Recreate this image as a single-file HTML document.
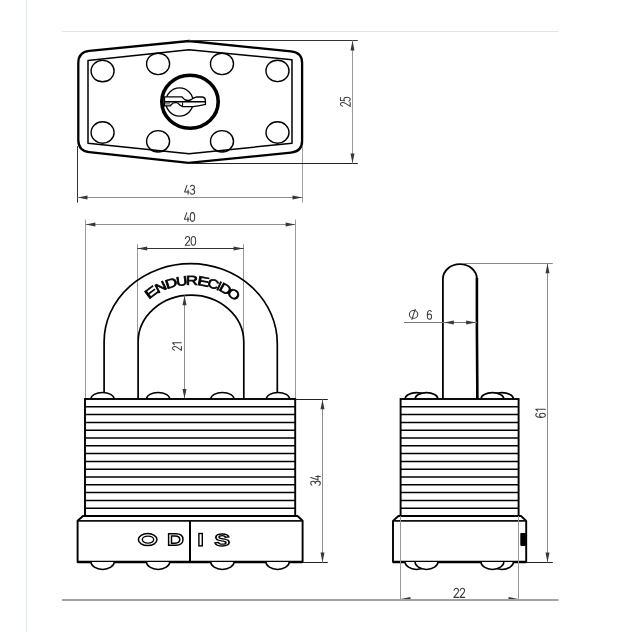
<!DOCTYPE html>
<html><head><meta charset="utf-8"><style>
html,body{margin:0;padding:0;background:#fff;width:632px;height:632px;overflow:hidden}
svg{display:block;will-change:transform}
text{font-family:"Liberation Sans",sans-serif}
</style></head><body>
<svg width="632" height="632" viewBox="0 0 632 632">
<rect width="632" height="632" fill="#fff"/>
<line x1="26.5" y1="0" x2="26.5" y2="632" stroke="#dfe7eb" stroke-width="1"/>
<line x1="62" y1="31.5" x2="558.5" y2="31.5" stroke="#e4e4e4" stroke-width="1.2"/>
<path d="M78.3,63 Q78.3,51.9 89.3,50.8 L189,41 L291,51.4 Q302.1,52.5 302.1,63 L302.1,141 Q302.1,151.5 291,152.6 L188.5,162.8 L89.3,152.2 Q78.3,151 78.3,140 Z" fill="none" stroke="#000" stroke-width="2.3"/>
<path d="M88,60.4 L189,49.8 L292,59.7 L292,143.2 L189,153.8 L88,143.2 Z" fill="none" stroke="#000" stroke-width="1.5" stroke-linejoin="round"/>
<ellipse cx="102.6" cy="71.1" rx="11.5" ry="10.7" fill="none" stroke="#000" stroke-width="1.4"/>
<ellipse cx="158.1" cy="63.9" rx="11.5" ry="10.7" fill="none" stroke="#000" stroke-width="1.4"/>
<ellipse cx="222" cy="63.9" rx="11.5" ry="10.7" fill="none" stroke="#000" stroke-width="1.4"/>
<ellipse cx="277.5" cy="70.9" rx="11.5" ry="10.7" fill="none" stroke="#000" stroke-width="1.4"/>
<ellipse cx="102.6" cy="132.5" rx="11.5" ry="10.7" fill="none" stroke="#000" stroke-width="1.4"/>
<ellipse cx="158.1" cy="141.3" rx="11.5" ry="10.7" fill="none" stroke="#000" stroke-width="1.4"/>
<ellipse cx="222" cy="141.3" rx="11.5" ry="10.7" fill="none" stroke="#000" stroke-width="1.4"/>
<ellipse cx="277.5" cy="132.5" rx="11.5" ry="10.7" fill="none" stroke="#000" stroke-width="1.4"/>
<ellipse cx="190" cy="101.7" rx="28.2" ry="26.5" fill="none" stroke="#000" stroke-width="3.6"/>
<ellipse cx="179.5" cy="102" rx="13.65" ry="14.1" fill="none" stroke="#000" stroke-width="1.3"/>
<path d="M164.5,96.8 L181.8,96.8 L184.4,99.4 Q187.8,101.6 191.6,99.4 Q193.4,97.4 196.8,96.8 L202.5,97 Q205.3,97.6 205.4,100.2 L205.5,104.4 Q200,105.6 193.2,106.6 L182.6,106.6 L179.8,105 Q178,102.6 176.3,102.6 Q173,102.4 171.6,104.3 L170.3,105.8 L164.5,105.8 Z" fill="#fff" stroke="#000" stroke-width="1.3" stroke-linejoin="round"/>
<rect x="165" y="102.4" width="5" height="2.2" fill="#888"/>
<line x1="164.5" y1="101.8" x2="205.2" y2="101.8" stroke="#000" stroke-width="1.6"/>
<line x1="182.6" y1="102.4" x2="182.6" y2="106.6" stroke="#000" stroke-width="1"/>
<line x1="164.3" y1="96.8" x2="164.3" y2="106.5" stroke="#000" stroke-width="1.3"/>
<line x1="77.5" y1="146" x2="77.5" y2="202.7" stroke="#333" stroke-width="1"/>
<line x1="302.5" y1="146" x2="302.5" y2="202.7" stroke="#a0a0a0" stroke-width="1"/>
<line x1="77.5" y1="197.5" x2="302.5" y2="197.5" stroke="#8e8e8e" stroke-width="1"/>
<polygon points="77.80,197.50 87.50,195.50 87.50,199.50" fill="#383838"/>
<polygon points="302.20,197.50 292.50,199.50 292.50,195.50" fill="#383838"/>
<g transform="translate(184.62 185.33) scale(0.8445 0.8850) translate(0 0)" fill="none" stroke="#3c3c3c" stroke-width="1.05" stroke-linecap="round" stroke-linejoin="round"><path vector-effect="non-scaling-stroke" transform="translate(0.0 0)" d="M2.8,0 L0,7.5 L5.3,7.5 M4.1,5.2 L4.1,10"/><path vector-effect="non-scaling-stroke" transform="translate(6.7 0)" d="M0.3,1.2 C0.8,0.4 1.6,0 2.6,0 C4,0 4.9,0.9 4.9,2.4 C4.9,3.8 3.9,4.7 2.3,4.7 C4.1,4.7 5.2,5.7 5.2,7.3 C5.2,9 4.1,10 2.6,10 C1.5,10 0.6,9.5 0.1,8.6"/></g>
<line x1="189" y1="40.5" x2="357.8" y2="40.5" stroke="#333" stroke-width="1"/>
<line x1="188.5" y1="163.5" x2="357.8" y2="163.5" stroke="#222" stroke-width="1"/>
<line x1="352.5" y1="40.5" x2="352.5" y2="163.5" stroke="#999" stroke-width="1"/>
<polygon points="352.50,40.80 354.50,50.50 350.50,50.50" fill="#383838"/>
<polygon points="352.50,163.20 350.50,153.50 354.50,153.50" fill="#383838"/>
<g transform="translate(340.42 106.38) rotate(-90) scale(0.7689 0.9750) translate(0 0)" fill="none" stroke="#3c3c3c" stroke-width="1.05" stroke-linecap="round" stroke-linejoin="round"><path vector-effect="non-scaling-stroke" transform="translate(0.0 0)" d="M0.2,2.3 C0.5,0.8 1.4,0 2.7,0 C4.2,0 5.1,0.9 5.1,2.4 C5.1,3.6 4.5,4.5 3.6,5.6 L0,10 L5.2,10"/><path vector-effect="non-scaling-stroke" transform="translate(6.7 0)" d="M4.9,0 L0.9,0 L0.5,4.4 C1.1,3.9 1.8,3.6 2.7,3.6 C4.3,3.6 5.2,4.8 5.2,6.7 C5.2,8.8 4.2,10 2.6,10 C1.5,10 0.6,9.5 0.1,8.6"/></g>
<line x1="85.5" y1="219.6" x2="85.5" y2="399" stroke="#999" stroke-width="1"/>
<line x1="295.5" y1="219.6" x2="295.5" y2="399" stroke="#999" stroke-width="1"/>
<line x1="85.5" y1="224.5" x2="295.4" y2="224.5" stroke="#8e8e8e" stroke-width="1"/>
<polygon points="85.70,224.50 95.40,222.50 95.40,226.50" fill="#383838"/>
<polygon points="295.30,224.50 285.60,226.50 285.60,222.50" fill="#383838"/>
<g transform="translate(184.43 212.62) scale(0.8613 0.8750) translate(0 0)" fill="none" stroke="#3c3c3c" stroke-width="1.05" stroke-linecap="round" stroke-linejoin="round"><path vector-effect="non-scaling-stroke" transform="translate(0.0 0)" d="M2.8,0 L0,7.5 L5.3,7.5 M4.1,5.2 L4.1,10"/><path vector-effect="non-scaling-stroke" transform="translate(6.7 0)" d="M2.6,0 C4.4,0 5.2,1.7 5.2,5 C5.2,8.3 4.4,10 2.6,10 C0.8,10 0,8.3 0,5 C0,1.7 0.8,0 2.6,0 Z"/></g>
<line x1="137.5" y1="244.2" x2="137.5" y2="340" stroke="#999" stroke-width="1"/>
<line x1="243.5" y1="244.2" x2="243.5" y2="340" stroke="#999" stroke-width="1"/>
<line x1="137.5" y1="248.5" x2="243.5" y2="248.5" stroke="#333" stroke-width="1"/>
<polygon points="137.50,248.50 147.20,246.50 147.20,250.50" fill="#383838"/>
<polygon points="243.30,248.50 233.60,250.50 233.60,246.50" fill="#383838"/>
<g transform="translate(185.22 236.53) scale(0.8782 0.8750) translate(0 0)" fill="none" stroke="#3c3c3c" stroke-width="1.05" stroke-linecap="round" stroke-linejoin="round"><path vector-effect="non-scaling-stroke" transform="translate(0.0 0)" d="M0.2,2.3 C0.5,0.8 1.4,0 2.7,0 C4.2,0 5.1,0.9 5.1,2.4 C5.1,3.6 4.5,4.5 3.6,5.6 L0,10 L5.2,10"/><path vector-effect="non-scaling-stroke" transform="translate(6.7 0)" d="M2.6,0 C4.4,0 5.2,1.7 5.2,5 C5.2,8.3 4.4,10 2.6,10 C0.8,10 0,8.3 0,5 C0,1.7 0.8,0 2.6,0 Z"/></g>
<path d="M104.1,399 L104.1,341.7 A86.6,78 0 0 1 190.7,263.7 A86.6,80 0 0 1 277.3,343.7 L277.3,399" fill="none" stroke="#000" stroke-width="1.7"/>
<path d="M138.1,399 L138.1,342.2 A52.85,47 0 0 1 243.8,342.2 L243.8,399" fill="none" stroke="#000" stroke-width="1.7"/>
<text transform="translate(150.70 291.86) rotate(-37) scale(1.45 1)" x="0" y="4.9" font-size="12.9" font-weight="normal" fill="#000" stroke="#000" stroke-width="0.7" text-anchor="middle">E</text>
<text transform="translate(160.50 286.54) rotate(-27) scale(1.2 1)" x="0" y="4.9" font-size="12.9" font-weight="normal" fill="#000" stroke="#000" stroke-width="0.7" text-anchor="middle">N</text>
<text transform="translate(170.99 282.74) rotate(-17.5) scale(1.3 1)" x="0" y="4.9" font-size="12.9" font-weight="normal" fill="#000" stroke="#000" stroke-width="0.7" text-anchor="middle">D</text>
<text transform="translate(181.68 280.59) rotate(-8) scale(1.2 1)" x="0" y="4.9" font-size="12.9" font-weight="normal" fill="#000" stroke="#000" stroke-width="0.7" text-anchor="middle">U</text>
<text transform="translate(191.78 280.00) rotate(0.5) scale(1.3 1)" x="0" y="4.9" font-size="12.9" font-weight="normal" fill="#000" stroke="#000" stroke-width="0.7" text-anchor="middle">R</text>
<text transform="translate(203.41 281.04) rotate(10) scale(1.4 1)" x="0" y="4.9" font-size="12.9" font-weight="normal" fill="#000" stroke="#000" stroke-width="0.7" text-anchor="middle">E</text>
<text transform="translate(213.50 283.48) rotate(19) scale(1.2 1)" x="0" y="4.9" font-size="12.9" font-weight="normal" fill="#000" stroke="#000" stroke-width="0.7" text-anchor="middle">C</text>
<text transform="translate(219.35 285.61) rotate(24) scale(1.0 1)" x="0" y="4.9" font-size="12.9" font-weight="normal" fill="#000" stroke="#000" stroke-width="0.7" text-anchor="middle">I</text>
<text transform="translate(225.70 288.59) rotate(30) scale(1.3 1)" x="0" y="4.9" font-size="12.9" font-weight="normal" fill="#000" stroke="#000" stroke-width="0.7" text-anchor="middle">D</text>
<text transform="translate(234.10 293.75) rotate(38) scale(1.2 1)" x="0" y="4.9" font-size="12.9" font-weight="normal" fill="#000" stroke="#000" stroke-width="0.7" text-anchor="middle">O</text>
<line x1="184.5" y1="295.5" x2="184.5" y2="399" stroke="#8e8e8e" stroke-width="1"/>
<polygon points="184.50,295.60 186.50,305.30 182.50,305.30" fill="#383838"/>
<polygon points="184.50,398.60 182.50,388.90 186.50,388.90" fill="#383838"/>
<g transform="translate(172.53 350.38) rotate(-90) scale(0.7475 0.8850) translate(0 0)" fill="none" stroke="#3c3c3c" stroke-width="1.05" stroke-linecap="round" stroke-linejoin="round"><path vector-effect="non-scaling-stroke" transform="translate(0.0 0)" d="M0.2,2.3 C0.5,0.8 1.4,0 2.7,0 C4.2,0 5.1,0.9 5.1,2.4 C5.1,3.6 4.5,4.5 3.6,5.6 L0,10 L5.2,10"/><path vector-effect="non-scaling-stroke" transform="translate(6.7 0)" d="M1.0,2.0 C2.0,1.4 2.8,0.7 3.4,0 L3.4,10"/></g>
<path d="M90.9,399 A11.6,6.5 0 0 1 114.1,399" fill="#fff" stroke="#000" stroke-width="1.6"/>
<path d="M146.5,399 A11.6,6.5 0 0 1 169.7,399" fill="#fff" stroke="#000" stroke-width="1.6"/>
<path d="M210.8,399 A11.6,6.5 0 0 1 234.0,399" fill="#fff" stroke="#000" stroke-width="1.6"/>
<path d="M266.4,399 A11.6,6.5 0 0 1 289.6,399" fill="#fff" stroke="#000" stroke-width="1.6"/>
<rect x="85" y="399" width="210.2" height="117" fill="none" stroke="#000" stroke-width="1.9"/>
<line x1="85" y1="406.8" x2="295.2" y2="406.8" stroke="#000" stroke-width="1.5"/>
<line x1="85" y1="414.6" x2="295.2" y2="414.6" stroke="#000" stroke-width="1.5"/>
<line x1="85" y1="422.4" x2="295.2" y2="422.4" stroke="#000" stroke-width="1.5"/>
<line x1="85" y1="430.2" x2="295.2" y2="430.2" stroke="#000" stroke-width="1.5"/>
<line x1="85" y1="438.0" x2="295.2" y2="438.0" stroke="#000" stroke-width="1.5"/>
<line x1="85" y1="445.8" x2="295.2" y2="445.8" stroke="#000" stroke-width="1.5"/>
<line x1="85" y1="453.6" x2="295.2" y2="453.6" stroke="#000" stroke-width="1.5"/>
<line x1="85" y1="461.4" x2="295.2" y2="461.4" stroke="#000" stroke-width="1.5"/>
<line x1="85" y1="469.2" x2="295.2" y2="469.2" stroke="#000" stroke-width="1.5"/>
<line x1="85" y1="477.0" x2="295.2" y2="477.0" stroke="#000" stroke-width="1.5"/>
<line x1="85" y1="484.8" x2="295.2" y2="484.8" stroke="#000" stroke-width="1.5"/>
<line x1="85" y1="492.6" x2="295.2" y2="492.6" stroke="#000" stroke-width="1.5"/>
<line x1="85" y1="500.4" x2="295.2" y2="500.4" stroke="#000" stroke-width="1.5"/>
<line x1="85" y1="508.2" x2="295.2" y2="508.2" stroke="#000" stroke-width="1.5"/>
<path d="M83,516 L297.5,516 L302.6,520.8 L302.6,562 L77.6,562 L77.6,520.8 Z" fill="#fff" stroke="#000" stroke-width="1.9" stroke-linejoin="round"/>
<line x1="78" y1="520.9" x2="302.2" y2="520.9" stroke="#111" stroke-width="1.6"/>
<path d="M85,516 L295.4,516" stroke="#000" stroke-width="2"/>
<line x1="190" y1="521" x2="190" y2="562" stroke="#000" stroke-width="2"/>
<line x1="77.6" y1="562" x2="302.5" y2="562" stroke="#000" stroke-width="2.4"/>
<path d="M91.0,562 A11.6,7.4 0 0 0 114.19999999999999,562" fill="#fff" stroke="#000" stroke-width="1.5"/>
<path d="M146.5,562 A11.6,7.4 0 0 0 169.7,562" fill="#fff" stroke="#000" stroke-width="1.5"/>
<path d="M210.8,562 A11.6,7.4 0 0 0 234.0,562" fill="#fff" stroke="#000" stroke-width="1.5"/>
<path d="M266.0,562 A11.6,7.4 0 0 0 289.20000000000005,562" fill="#fff" stroke="#000" stroke-width="1.5"/>
<ellipse cx="147.7" cy="539.6" rx="9.3" ry="6.0" fill="none" stroke="#000" stroke-width="1.5"/>
<ellipse cx="148" cy="539.6" rx="5.7" ry="3.5" fill="none" stroke="#000" stroke-width="1.4"/>
<path d="M168.6,533.8 L175.8,533.8 Q183,533.8 183,539.5 Q183,545.2 175.8,545.2 L168.6,545.2 Z M171.5,535.9 L175,535.9 Q179.8,535.9 179.8,539.6 Q179.8,543.2 175,543.2 L171.5,543.2 Z" fill="none" stroke="#000" stroke-width="1.45"/>
<rect x="198.9" y="533.5" width="3.4" height="12.4" fill="none" stroke="#000" stroke-width="1.4"/>
<text x="222.3" y="545.8" font-size="16.5" font-weight="bold" text-anchor="middle" fill="#fff" stroke="#000" stroke-width="1.3" textLength="15.5" lengthAdjust="spacingAndGlyphs">S</text>
<line x1="295.4" y1="399.5" x2="327.8" y2="399.5" stroke="#222" stroke-width="1"/>
<line x1="302.5" y1="562.5" x2="327.8" y2="562.5" stroke="#222" stroke-width="1"/>
<line x1="322.5" y1="399.5" x2="322.5" y2="562.5" stroke="#8e8e8e" stroke-width="1"/>
<polygon points="322.50,399.60 324.50,409.30 320.50,409.30" fill="#383838"/>
<polygon points="322.50,562.30 320.50,552.60 324.50,552.60" fill="#383838"/>
<g transform="translate(310.72 485.28) rotate(-90) scale(0.8193 0.9650) translate(-0.1 0)" fill="none" stroke="#3c3c3c" stroke-width="1.05" stroke-linecap="round" stroke-linejoin="round"><path vector-effect="non-scaling-stroke" transform="translate(0.0 0)" d="M0.3,1.2 C0.8,0.4 1.6,0 2.6,0 C4,0 4.9,0.9 4.9,2.4 C4.9,3.8 3.9,4.7 2.3,4.7 C4.1,4.7 5.2,5.7 5.2,7.3 C5.2,9 4.1,10 2.6,10 C1.5,10 0.6,9.5 0.1,8.6"/><path vector-effect="non-scaling-stroke" transform="translate(6.7 0)" d="M2.8,0 L0,7.5 L5.3,7.5 M4.1,5.2 L4.1,10"/></g>
<path d="M442.9,399 L442.9,279 A17,14.8 0 0 1 476.9,279 L476.9,399" fill="none" stroke="#000" stroke-width="1.8"/>
<path d="M476.9,278 L476.9,330 L477.4,399" fill="none" stroke="#000" stroke-width="2.6"/>
<line x1="404" y1="322.5" x2="477" y2="322.5" stroke="#777" stroke-width="1"/>
<polygon points="444.20,322.50 453.90,320.50 453.90,324.50" fill="#383838"/>
<polygon points="475.80,322.50 466.10,324.50 466.10,320.50" fill="#383838"/>
<ellipse cx="413.6" cy="314.4" rx="4.2" ry="3.9" fill="none" stroke="#3c3c3c" stroke-width="1.05"/>
<line x1="411.8" y1="319.8" x2="415.3" y2="308.8" stroke="#3c3c3c" stroke-width="1.05"/>
<g transform="translate(427.32 310.52) scale(0.8173 0.8750) translate(0 0)" fill="none" stroke="#3c3c3c" stroke-width="1.05" stroke-linecap="round" stroke-linejoin="round"><path vector-effect="non-scaling-stroke" transform="translate(0.0 0)" d="M4.8,1.1 C4.4,0.4 3.7,0 2.8,0 C1,0 0,1.9 0,5.4 C0,8.6 1,10 2.6,10 C4.2,10 5.2,8.8 5.2,7 C5.2,5.1 4.2,4 2.7,4 C1.4,4 0.4,4.9 0,6.2"/></g>
<line x1="463" y1="263.5" x2="552.8" y2="263.5" stroke="#888" stroke-width="1"/>
<line x1="526.7" y1="562.5" x2="552.8" y2="562.5" stroke="#222" stroke-width="1"/>
<line x1="547.5" y1="263.5" x2="547.5" y2="562.5" stroke="#8e8e8e" stroke-width="1"/>
<polygon points="547.50,263.60 549.50,273.30 545.50,273.30" fill="#383838"/>
<polygon points="547.50,562.30 545.50,552.60 549.50,552.60" fill="#383838"/>
<g transform="translate(535.73 417.38) rotate(-90) scale(0.8069 0.9650) translate(0 0)" fill="none" stroke="#3c3c3c" stroke-width="1.05" stroke-linecap="round" stroke-linejoin="round"><path vector-effect="non-scaling-stroke" transform="translate(0.0 0)" d="M4.8,1.1 C4.4,0.4 3.7,0 2.8,0 C1,0 0,1.9 0,5.4 C0,8.6 1,10 2.6,10 C4.2,10 5.2,8.8 5.2,7 C5.2,5.1 4.2,4 2.7,4 C1.4,4 0.4,4.9 0,6.2"/><path vector-effect="non-scaling-stroke" transform="translate(6.7 0)" d="M1.0,2.0 C2.0,1.4 2.8,0.7 3.4,0 L3.4,10"/></g>
<path d="M405.1,399 A11.4,6.4 0 0 1 427.9,399" fill="#fff" stroke="#000" stroke-width="1.6"/>
<path d="M490.6,399 A11.4,6.4 0 0 1 513.4,399" fill="#fff" stroke="#000" stroke-width="1.6"/>
<path d="M415.1,399 A11.4,6.4 0 0 1 437.9,399" fill="#fff" stroke="#000" stroke-width="1.6"/>
<path d="M481.0,399 A11.4,6.4 0 0 1 503.79999999999995,399" fill="#fff" stroke="#000" stroke-width="1.6"/>
<rect x="400.6" y="399" width="118" height="117" fill="none" stroke="#000" stroke-width="1.9"/>
<line x1="400.6" y1="406.8" x2="518.6" y2="406.8" stroke="#000" stroke-width="1.5"/>
<line x1="400.6" y1="414.6" x2="518.6" y2="414.6" stroke="#000" stroke-width="1.5"/>
<line x1="400.6" y1="422.4" x2="518.6" y2="422.4" stroke="#000" stroke-width="1.5"/>
<line x1="400.6" y1="430.2" x2="518.6" y2="430.2" stroke="#000" stroke-width="1.5"/>
<line x1="400.6" y1="438.0" x2="518.6" y2="438.0" stroke="#000" stroke-width="1.5"/>
<line x1="400.6" y1="445.8" x2="518.6" y2="445.8" stroke="#000" stroke-width="1.5"/>
<line x1="400.6" y1="453.6" x2="518.6" y2="453.6" stroke="#000" stroke-width="1.5"/>
<line x1="400.6" y1="461.4" x2="518.6" y2="461.4" stroke="#000" stroke-width="1.5"/>
<line x1="400.6" y1="469.2" x2="518.6" y2="469.2" stroke="#000" stroke-width="1.5"/>
<line x1="400.6" y1="477.0" x2="518.6" y2="477.0" stroke="#000" stroke-width="1.5"/>
<line x1="400.6" y1="484.8" x2="518.6" y2="484.8" stroke="#000" stroke-width="1.5"/>
<line x1="400.6" y1="492.6" x2="518.6" y2="492.6" stroke="#000" stroke-width="1.5"/>
<line x1="400.6" y1="500.4" x2="518.6" y2="500.4" stroke="#000" stroke-width="1.5"/>
<line x1="400.6" y1="508.2" x2="518.6" y2="508.2" stroke="#000" stroke-width="1.5"/>
<path d="M398.4,516 L521,516 L526.2,520.9 L526.2,562 L393,562 L393,520.9 Z" fill="#fff" stroke="#000" stroke-width="1.9" stroke-linejoin="round"/>
<line x1="393.3" y1="520.9" x2="526.2" y2="520.9" stroke="#111" stroke-width="1.6"/>
<line x1="393" y1="562" x2="526.2" y2="562" stroke="#000" stroke-width="2.4"/>
<rect x="520.3" y="533" width="5.6" height="12.9" rx="0.8" fill="#000"/>
<path d="M405.1,562 A11.4,7.4 0 0 0 427.9,562" fill="#fff" stroke="#000" stroke-width="1.5"/>
<path d="M490.6,562 A11.4,7.4 0 0 0 513.4,562" fill="#fff" stroke="#000" stroke-width="1.5"/>
<path d="M415.1,562 A11.4,7.4 0 0 0 437.9,562" fill="#fff" stroke="#000" stroke-width="1.5"/>
<path d="M481.0,562 A11.4,7.4 0 0 0 503.79999999999995,562" fill="#fff" stroke="#000" stroke-width="1.5"/>
<line x1="400.5" y1="516" x2="400.5" y2="599" stroke="#999" stroke-width="1"/>
<line x1="518.5" y1="516" x2="518.5" y2="599" stroke="#999" stroke-width="1"/>
<polygon points="400.80,599.00 410.50,597.00 410.50,601.00" fill="#383838"/>
<polygon points="518.20,599.00 508.50,601.00 508.50,597.00" fill="#383838"/>
<g transform="translate(453.82 588.32) scale(0.9118 0.9050) translate(0 0)" fill="none" stroke="#3c3c3c" stroke-width="1.05" stroke-linecap="round" stroke-linejoin="round"><path vector-effect="non-scaling-stroke" transform="translate(0.0 0)" d="M0.2,2.3 C0.5,0.8 1.4,0 2.7,0 C4.2,0 5.1,0.9 5.1,2.4 C5.1,3.6 4.5,4.5 3.6,5.6 L0,10 L5.2,10"/><path vector-effect="non-scaling-stroke" transform="translate(6.7 0)" d="M0.2,2.3 C0.5,0.8 1.4,0 2.7,0 C4.2,0 5.1,0.9 5.1,2.4 C5.1,3.6 4.5,4.5 3.6,5.6 L0,10 L5.2,10"/></g>
<line x1="62" y1="600" x2="558.5" y2="600" stroke="#a2a2a2" stroke-width="2"/>
</svg>
</body></html>
